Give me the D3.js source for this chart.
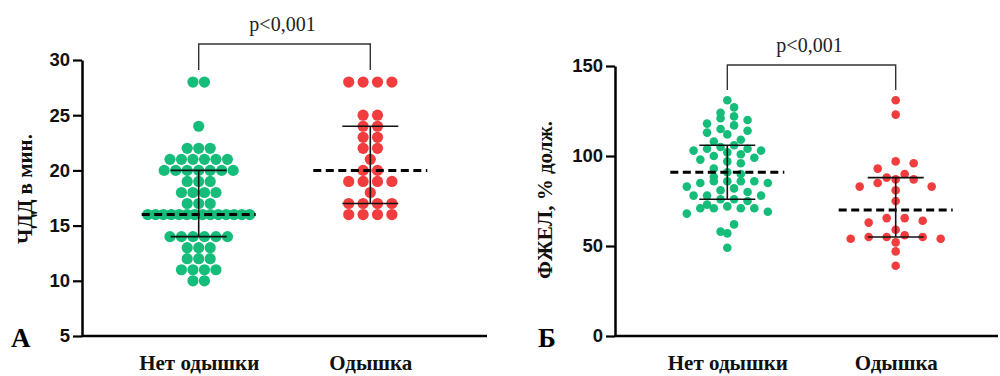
<!DOCTYPE html>
<html>
<head>
<meta charset="utf-8">
<script src="https://cdn.jsdelivr.net/npm/d3@7"></script>
<style>
  body { margin: 0; background: #fff; }
  svg { display: block; }
</style>
</head>
<body>
<div id="chart"></div>
<script>
// categories
var groups = ["Нет одышки", "Одышка"];

// panel A: ЧДД в мин.
var rrNoDyspnea = [28, 28, 24, 22, 22, 22, 21, 21, 21, 21, 21, 21,
  20, 20, 20, 20, 20, 20, 20, 19, 19, 19, 18, 18, 18, 18, 17, 17, 17,
  16, 16, 16, 16, 16, 16, 16, 16, 16, 16, 16, 16, 16, 16,
  14, 14, 14, 14, 14, 14, 13, 13, 13, 12, 12, 12, 11, 11, 11, 11, 10, 10];
var rrDyspnea = [28, 28, 28, 28, 25, 25, 24, 24, 23, 23, 22, 22, 21,
  20, 20, 19, 19, 19, 19, 18, 17, 17, 17, 17, 16, 16, 16, 16];
// median, q1, q3
var rrStats = [[16, 14, 20], [20, 17, 24]];
var rrTicks = [5, 10, 15, 20, 25, 30];

// panel Б: ФЖЕЛ, % долж.
var fvcNoDyspnea = [131, 127, 124, 122, 121, 120, 118, 117, 115, 114, 113, 112,
  109, 108, 106, 105, 104, 104, 103, 103, 102, 101, 100, 99, 98, 97, 96, 93,
  91, 90, 88.5, 86, 86, 86, 86, 85, 85, 83, 82, 81, 80, 78, 78, 78, 76, 76, 75,
  73, 72, 71, 71, 71, 71, 69, 68, 62, 58, 57, 49];
var fvcDyspnea = [131, 123, 97, 96, 93, 90, 88, 87, 87, 85, 83, 83, 81, 75,
  65.5, 65.5, 64, 63, 59, 56, 55, 55, 55, 54, 54, 52, 47, 39];
var fvcStats = [[91, 76, 106], [70, 55, 88]];
var fvcTicks = [0, 50, 100, 150];

var pLabel = "p<0,001";
var colors = ["#16bd7a", "#f23d3f"];

var svg = d3.select("#chart")
  .append("svg")
  .attr("width", 1000)
  .attr("height", 376);

// Prism-like scatter: values in the same bin are spread side by side,
// a crowded bin gets squeezed into maxWidth
function swarm(values, cx, y, binSize, maxStep, maxWidth) {
  var bins = d3.groups(values, function (v) { return Math.round(v / binSize); });
  var pts = [];
  bins.forEach(function (b) {
    var vs = b[1].slice().sort(d3.descending);
    var n = vs.length;
    var step = n > 1 ? Math.min(maxStep, maxWidth / (n - 1)) : 0;
    // slots from the middle outwards
    var slots = d3.range(n).map(function (i) { return (i - (n - 1) / 2) * step; })
      .sort(function (a, b) { return Math.abs(a) - Math.abs(b) || b - a; });
    vs.forEach(function (v, i) {
      pts.push({ v: v, x: cx + slots[i], y: y(v) });
    });
  });
  return pts;
}

function panel(opt) {
  var g = svg.append("g");

  var x = d3.scalePoint()
    .domain(groups)
    .range(opt.xRange)
    .padding(opt.pad);

  var y = d3.scaleLinear()
    .domain(opt.yDomain)
    .range([336, opt.yTop]);

  // dots
  opt.data.forEach(function (vals, i) {
    var pts = swarm(vals, x(groups[i]), y, opt.bin, opt.maxStep[i], opt.maxWidth);
    g.append("g").selectAll("circle")
      .data(pts)
      .enter()
      .append("circle")
      .attr("cx", function (d) { return d.x; })
      .attr("cy", function (d) { return d.y; })
      .attr("r", opt.r)
      .attr("fill", colors[i]);
  });

  // median (dashed) and interquartile range
  opt.stats.forEach(function (s, i) {
    var cx = x(groups[i]);
    g.append("line")
      .attr("x1", cx - 57).attr("x2", cx + 57)
      .attr("y1", y(s[0])).attr("y2", y(s[0]))
      .attr("stroke", "#000")
      .attr("stroke-width", 3)
      .attr("stroke-dasharray", "8,4.5");
    g.append("line")
      .attr("x1", cx).attr("x2", cx)
      .attr("y1", y(s[1])).attr("y2", y(s[2]))
      .attr("stroke", "#111").attr("stroke-width", 1.6);
    [s[1], s[2]].forEach(function (q) {
      g.append("line")
        .attr("x1", cx - 28).attr("x2", cx + 28)
        .attr("y1", y(q)).attr("y2", y(q))
        .attr("stroke", "#111").attr("stroke-width", 1.6);
    });
  });

  // y axis
  var yAxis = g.append("g")
    .attr("transform", "translate(" + opt.xRange[0] + ",0)")
    .call(d3.axisLeft(y).tickValues(opt.ticks).tickSize(9).tickSizeOuter(0).tickPadding(3));
  yAxis.select(".domain").attr("stroke", "#000").attr("stroke-width", 2.5);
  yAxis.selectAll(".tick line").attr("stroke", "#000").attr("stroke-width", 2.2);
  yAxis.selectAll("text")
    .attr("fill", "#111")
    .style("font-family", "'Liberation Sans', Arial, sans-serif")
    .style("font-weight", "bold")
    .style("font-size", "18.5px");

  // x axis
  var xAxis = g.append("g")
    .attr("transform", "translate(0,336)")
    .call(d3.axisBottom(x).tickSize(0).tickSizeOuter(0).tickPadding(19));
  xAxis.select(".domain")
    .attr("d", "M" + opt.xRange[0] + ",0H" + opt.xEnd)
    .attr("stroke", "#000").attr("stroke-width", 2.5);
  xAxis.selectAll("text")
    .attr("fill", "#111")
    .style("font-family", "'Liberation Serif', 'Times New Roman', serif")
    .style("font-weight", "bold")
    .style("font-size", "21px");

  // y title
  g.append("text")
    .attr("transform", "translate(" + opt.titleX + "," + opt.titleY + ") rotate(-90)")
    .attr("text-anchor", "middle")
    .style("font-family", "'Liberation Serif', 'Times New Roman', serif")
    .style("font-weight", "bold")
    .style("font-size", "21px")
    .attr("fill", "#111")
    .text(opt.title);

  // panel letter
  g.append("text")
    .attr("x", opt.letterX)
    .attr("y", 347)
    .style("font-family", "'Liberation Serif', 'Times New Roman', serif")
    .style("font-weight", "bold")
    .style("font-size", "27px")
    .attr("fill", "#000")
    .text(opt.letter);

  // significance bracket
  var x0 = x(groups[0]), x1 = x(groups[1]);
  g.append("path")
    .attr("d", "M" + x0 + "," + opt.brBottom + "V" + opt.brTop + "H" + x1 + "V" + opt.brBottom)
    .attr("fill", "none")
    .attr("stroke", "#333")
    .attr("stroke-width", 1.4);
  g.append("text")
    .attr("x", (x0 + x1) / 2 - 2)
    .attr("y", opt.brTop - 13)
    .attr("text-anchor", "middle")
    .style("font-family", "'Liberation Serif', 'Times New Roman', serif")
    .style("font-size", "20px")
    .attr("fill", "#222")
    .text(pLabel);
}

panel({
  data: [rrNoDyspnea, rrDyspnea],
  stats: rrStats,
  ticks: rrTicks,
  yDomain: [5, 30],
  yTop: 60,
  xRange: [82, 487],
  xEnd: 487,
  pad: 0.68,
  r: 5.6,
  bin: 1,
  maxStep: [11.5, 14.4],
  maxWidth: 102,
  title: "ЧДД в мин.",
  titleX: 32,
  titleY: 189,
  letter: "А",
  letterX: 11,
  brTop: 44,
  brBottom: 70
});

panel({
  data: [fvcNoDyspnea, fvcDyspnea],
  stats: fvcStats,
  ticks: fvcTicks,
  yDomain: [0, 150],
  yTop: 66,
  xRange: [615, 1008],
  xEnd: 998,
  pad: 0.667,
  r: 4.3,
  bin: 5,
  maxStep: [13.5, 18],
  maxWidth: 100,
  title: "ФЖЕЛ, % долж.",
  titleX: 552,
  titleY: 200,
  letter: "Б",
  letterX: 538,
  brTop: 65,
  brBottom: 90
});
</script>
</body>
</html>
